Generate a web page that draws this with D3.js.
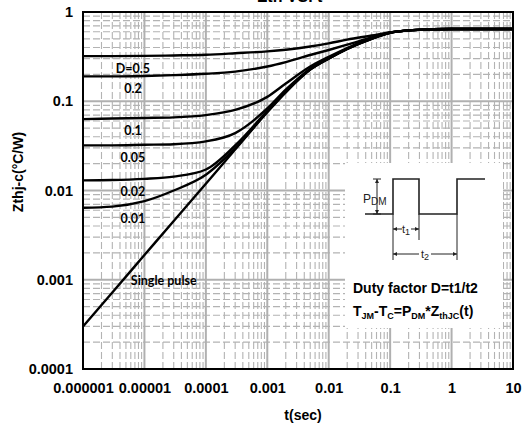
<!DOCTYPE html>
<html>
<head>
<meta charset="utf-8">
<script src="https://cdn.jsdelivr.net/npm/d3@7"></script>
<style>
  body { margin: 0; background: #fff; }
  svg { display: block; }
</style>
</head>
<body>
<svg id="chart" width="531" height="428"></svg>
<script>
// Sample times (s) shared by all transient thermal impedance curves
const timeSec = [1e-6, 3e-6, 1e-5, 3e-5, 1e-4, 3e-4, 1e-3, 2e-3, 5e-3, 1e-2, 2e-2, 5e-2, 0.1, 0.2, 0.5, 1, 3, 10];

// Zth(j-c) in °C/W for each duty factor
const zD05    = [0.320, 0.320, 0.322, 0.326, 0.332, 0.345, 0.362, 0.378, 0.410, 0.445, 0.490, 0.545, 0.592, 0.623, 0.640, 0.645, 0.645, 0.645];
const zD02    = [0.190, 0.190, 0.192, 0.196, 0.203, 0.215, 0.245, 0.275, 0.330, 0.375, 0.430, 0.520, 0.590, 0.622, 0.640, 0.645, 0.645, 0.645];
const zD01    = [0.063, 0.064, 0.065, 0.066, 0.070, 0.080, 0.112, 0.158, 0.245, 0.315, 0.395, 0.510, 0.588, 0.622, 0.640, 0.645, 0.645, 0.645];
const zD005   = [0.032, 0.032, 0.0325, 0.033, 0.0355, 0.044, 0.083, 0.135, 0.232, 0.305, 0.390, 0.505, 0.587, 0.622, 0.640, 0.645, 0.645, 0.645];
const zD002   = [0.013, 0.0131, 0.0135, 0.0143, 0.0172, 0.032, 0.078, 0.129, 0.228, 0.302, 0.387, 0.502, 0.586, 0.622, 0.640, 0.645, 0.645, 0.645];
const zD001   = [0.0064, 0.0066, 0.0076, 0.0100, 0.0150, 0.0298, 0.0765, 0.127, 0.227, 0.301, 0.386, 0.501, 0.585, 0.622, 0.640, 0.645, 0.645, 0.645];
const zSingle = [0.00030, 0.00072, 0.00189, 0.00456, 0.0119, 0.0288, 0.0753, 0.126, 0.226, 0.300, 0.385, 0.500, 0.585, 0.622, 0.640, 0.645, 0.645, 0.645];

const seriesValues = [zD05, zD02, zD01, zD005, zD002, zD001];
const seriesLabels = ["D=0.5", "0.2", "0.1", "0.05", "0.02", "0.01"];
const singleLabel = "Single pulse";

const xTickValues = [1e-6, 1e-5, 1e-4, 1e-3, 1e-2, 1e-1, 1, 10];
const xTickLabels = ["0.000001", "0.00001", "0.0001", "0.001", "0.01", "0.1", "1", "10"];
const yTickValues = [1e-4, 1e-3, 1e-2, 1e-1, 1];
const yTickLabels = ["0.0001", "0.001", "0.01", "0.1", "1"];

const svg = d3.select("#chart");
const margin = { left: 83, top: 12, right: 18, bottom: 59 };
const W = 531, H = 428;
const x = d3.scaleLog().domain([1e-6, 10]).range([margin.left, W - margin.right]);
const y = d3.scaleLog().domain([1e-4, 1]).range([H - margin.bottom, margin.top]);

const x0 = x.range()[0], x1 = x.range()[1];
const yTop = y.range()[1], yBot = y.range()[0];

// Title (runs off the top edge)
svg.append("text")
  .attr("x", 290).attr("y", 2)
  .attr("text-anchor", "middle")
  .attr("font-family", "Liberation Sans, Arial, sans-serif")
  .attr("font-weight", "bold").attr("font-size", 16)
  .text("Zth VS. t");

// Grid: minor dashed, decades solid
const minorX = [], minorY = [];
for (let e = -6; e < 1; e++) for (let m = 2; m <= 9; m++) minorX.push(m * Math.pow(10, e));
for (let e = -4; e < 0; e++) for (let m = 2; m <= 9; m++) minorY.push(m * Math.pow(10, e));

const grid = svg.append("g").attr("class", "grid");
grid.selectAll("line.vminor").data(minorX).join("line").attr("class", "vminor")
  .attr("x1", d => x(d)).attr("x2", d => x(d))
  .attr("y1", yTop).attr("y2", yBot);
grid.selectAll("line.hminor").data(minorY).join("line").attr("class", "hminor")
  .attr("x1", x0).attr("x2", x1)
  .attr("y1", d => y(d)).attr("y2", d => y(d));
grid.selectAll("line.vminor, line.hminor")
  .attr("stroke", "#b3b3b3").attr("stroke-width", 1.1).attr("stroke-dasharray", "7,3");
grid.selectAll("line.vmajor").data(xTickValues).join("line").attr("class", "vmajor")
  .attr("x1", d => x(d)).attr("x2", d => x(d))
  .attr("y1", yTop).attr("y2", yBot);
grid.selectAll("line.hmajor").data(yTickValues).join("line").attr("class", "hmajor")
  .attr("x1", x0).attr("x2", x1)
  .attr("y1", d => y(d)).attr("y2", d => y(d));
grid.selectAll("line.vmajor, line.hmajor")
  .attr("stroke", "#b0b0b0").attr("stroke-width", 2);

// Curves
const line = d3.line()
  .x((d, i) => x(timeSec[i]))
  .y(d => y(d))
  .curve(d3.curveMonotoneX);

const curves = svg.append("g");
[...seriesValues, zSingle].forEach(vals => {
  curves.append("path")
    .attr("d", line(vals))
    .attr("fill", "none").attr("stroke", "#000")
    .attr("stroke-width", 2.4).attr("stroke-linejoin", "round");
});

// Curve labels, set just under the flat part of each curve
const labelT = 6.5e-6;
const labelFont = "Lato, Carlito, Calibri, sans-serif";
seriesValues.forEach((vals, i) => {
  svg.append("text")
    .attr("x", x(labelT)).attr("y", y(vals[1]) + 12)
    .attr("dy", "0.35em").attr("text-anchor", "middle")
    .attr("font-family", labelFont).attr("font-weight", "bold").attr("font-size", 12.5)
    .text(seriesLabels[i]);
});
svg.append("text")
  .attr("x", x(6e-6)).attr("y", y(1e-3) + 1)
  .attr("dy", "0.35em")
  .attr("font-family", labelFont).attr("font-weight", "bold").attr("font-size", 12.5)
  .text(singleLabel);

// Inset: duty factor sketch
const inset = svg.append("g");
inset.append("rect").attr("x", 345).attr("y", 163).attr("width", 158).attr("height", 165).attr("fill", "#fff");
const ink = "#222";
const hi = 179, lo = 214, xr = 393, xf = 419, xr2 = 457;
inset.append("path")
  .attr("d", `M365,${lo} H${xr} V${hi} H${xf} V${lo} H${xr2} V${hi} H485`)
  .attr("fill", "none").attr("stroke", ink).attr("stroke-width", 1.6);
const thin = (x1_, y1_, x2_, y2_) => inset.append("line")
  .attr("x1", x1_).attr("y1", y1_).attr("x2", x2_).attr("y2", y2_)
  .attr("stroke", ink).attr("stroke-width", 1);
const arrowHead = (px, py, dir) => {
  const s = 4, w = 2;
  let d;
  if (dir === "up") d = `M${px},${py} L${px - w},${py + s} L${px + w},${py + s} Z`;
  if (dir === "down") d = `M${px},${py} L${px - w},${py - s} L${px + w},${py - s} Z`;
  if (dir === "left") d = `M${px},${py} L${px + s},${py - w} L${px + s},${py + w} Z`;
  if (dir === "right") d = `M${px},${py} L${px - s},${py - w} L${px - s},${py + w} Z`;
  inset.append("path").attr("d", d).attr("fill", ink);
};
// P_DM arrow
thin(377, hi, 377, lo);
thin(373, hi, 381, hi); thin(373, lo, 381, lo);
arrowHead(377, hi, "up"); arrowHead(377, lo, "down");
// extension lines for t1 / t2
thin(xr, lo, xr, 260);
thin(xf, lo, xf, 240);
thin(xr2, lo, xr2, 260);
// t1 dimension
thin(xr, 229, 402, 229); thin(411, 229, xf, 229);
arrowHead(xr, 229, "left"); arrowHead(xf, 229, "right");
// t2 dimension
thin(xr, 254, 419, 254); thin(431, 254, xr2, 254);
arrowHead(xr, 254, "left"); arrowHead(xr2, 254, "right");

const sans = "Liberation Sans, Arial, sans-serif";
const pdm = inset.append("text").attr("x", 363).attr("y", 203)
  .attr("font-family", sans).attr("font-size", 12).attr("fill", ink);
pdm.append("tspan").text("P");
pdm.append("tspan").attr("font-size", 10).attr("dy", 2).text("DM");
const t1 = inset.append("text").attr("x", 406).attr("y", 233).attr("text-anchor", "middle")
  .attr("font-family", sans).attr("font-size", 11).attr("fill", ink);
t1.append("tspan").text("t");
t1.append("tspan").attr("font-size", 9).attr("dy", 2).text("1");
const t2 = inset.append("text").attr("x", 425).attr("y", 258).attr("text-anchor", "middle")
  .attr("font-family", sans).attr("font-size", 11).attr("fill", ink);
t2.append("tspan").text("t");
t2.append("tspan").attr("font-size", 9).attr("dy", 2).text("2");

inset.append("text").attr("x", 353).attr("y", 293)
  .attr("font-family", sans).attr("font-weight", "bold").attr("font-size", 14)
  .text("Duty factor D=t1/t2");
const eq = inset.append("text").attr("x", 353).attr("y", 316)
  .attr("font-family", sans).attr("font-weight", "bold").attr("font-size", 14);
const parts = [["T", false], ["JM", true], ["-T", false], ["C", true], ["=P", false], ["DM", true], ["*Z", false], ["thJC", true], ["(t)", false]];
let wasSub = false;
parts.forEach(([txt, sub]) => {
  const ts = eq.append("tspan").text(txt);
  if (sub) { ts.attr("font-size", 9).attr("dy", wasSub ? 0 : 3); }
  else { ts.attr("dy", wasSub ? -3 : 0); }
  wasSub = sub;
});

// Plot frame
svg.append("rect")
  .attr("x", x0).attr("y", yTop).attr("width", x1 - x0).attr("height", yBot - yTop)
  .attr("fill", "none").attr("stroke", "#000").attr("stroke-width", 2);

// Axes
const xAxis = svg.append("g").attr("transform", `translate(0,${yBot})`)
  .call(d3.axisBottom(x).tickValues(xTickValues).tickFormat((d, i) => xTickLabels[i]).tickSize(0).tickPadding(14));
xAxis.select(".domain").remove();
xAxis.selectAll("text").attr("font-family", sans).attr("font-weight", "bold").attr("font-size", 14.5).attr("fill", "#000");

const yAxis = svg.append("g").attr("transform", `translate(${x0},0)`)
  .call(d3.axisLeft(y).tickValues(yTickValues).tickFormat((d, i) => yTickLabels[i]).tickSize(0).tickPadding(10));
yAxis.select(".domain").remove();
yAxis.selectAll("text").attr("font-family", sans).attr("font-weight", "bold").attr("font-size", 14.5).attr("fill", "#000");

svg.append("text").attr("x", 303).attr("y", 420).attr("text-anchor", "middle")
  .attr("font-family", sans).attr("font-weight", "bold").attr("font-size", 14)
  .text("t(sec)");
svg.append("text")
  .attr("transform", `translate(23,172) rotate(-90)`)
  .attr("text-anchor", "middle")
  .attr("font-family", sans).attr("font-weight", "bold").attr("font-size", 14)
  .text("Zthj-c(°C/W)");
</script>
</body>
</html>
